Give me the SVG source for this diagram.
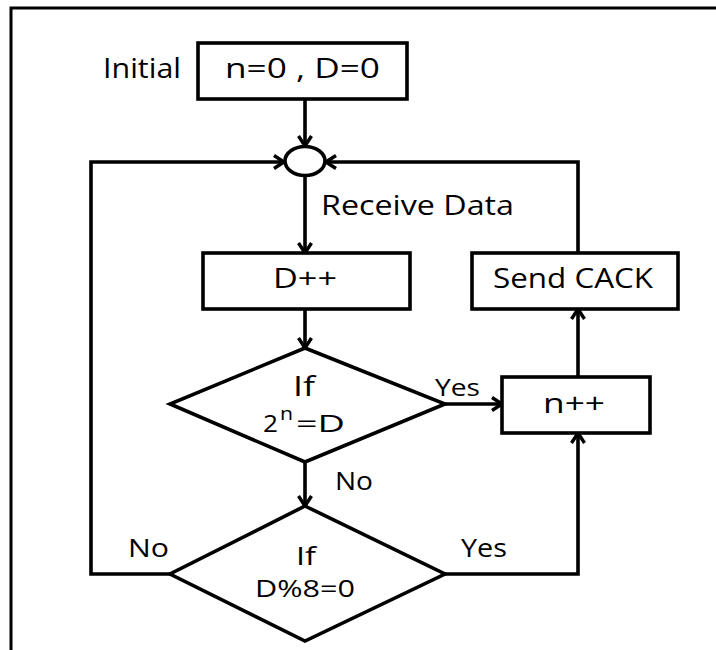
<svg xmlns="http://www.w3.org/2000/svg" width="716" height="650" viewBox="0 0 716 650">
  <style>
    .shape { fill: #ffffff; stroke: #000000; stroke-width: 3.6; stroke-linejoin: miter; }
    .wire { fill: none; stroke: #000000; stroke-width: 3.6; }
    .lbl { font-family: "Open Sans", "Noto Sans", "Liberation Sans", sans-serif; fill: #000000; }
    .big { font-size: 27px; }
    .mid { font-size: 25px; }
    .small { font-size: 23px; }
  </style>
  <defs>
    <marker id="arrow" viewBox="0 0 13 16" refX="11.5" refY="8" markerWidth="13" markerHeight="16" markerUnits="userSpaceOnUse" orient="auto">
      <path d="M1.5,1.5 L11.5,8 L1.5,14.5" fill="none" stroke="#000000" stroke-width="3.4"/>
    </marker>
  </defs>

  <rect width="716" height="650" fill="#ffffff"/>

  <!-- frame: top and left edges -->
  <path d="M11,650 V8 H716" fill="none" stroke="#000000" stroke-width="3"/>

  <g id="connectors">
    <line class="wire" x1="305" y1="99" x2="305" y2="146" marker-end="url(#arrow)"/>
    <path class="wire" d="M170,574 H91 V162 H284" marker-end="url(#arrow)"/>
    <path class="wire" d="M578,253 V162 H326" marker-end="url(#arrow)"/>
    <line class="wire" x1="305" y1="176" x2="305" y2="253" marker-end="url(#arrow)"/>
    <line class="wire" x1="305" y1="309" x2="305" y2="348" marker-end="url(#arrow)"/>
    <line class="wire" x1="445" y1="404" x2="502" y2="404" marker-end="url(#arrow)"/>
    <line class="wire" x1="578" y1="377" x2="578" y2="309" marker-end="url(#arrow)"/>
    <line class="wire" x1="305" y1="462" x2="305" y2="506" marker-end="url(#arrow)"/>
    <path class="wire" d="M445,574 H578 V433" marker-end="url(#arrow)"/>
  </g>

  <g id="init">
    <text class="lbl big" x="103" y="78" textLength="78" lengthAdjust="spacingAndGlyphs">Initial</text>
    <rect class="shape" x="198" y="43" width="209" height="56"/>
    <text class="lbl big" x="225" y="78" textLength="155" lengthAdjust="spacingAndGlyphs">n=0 , D=0</text>
  </g>

  <g id="merge">
    <ellipse class="shape" cx="305" cy="161" rx="20" ry="14.5"/>
  </g>

  <g id="receive-label">
    <text class="lbl big" x="321" y="215" textLength="193" lengthAdjust="spacingAndGlyphs">Receive Data</text>
  </g>

  <g id="inc-d">
    <rect class="shape" x="203" y="253" width="207" height="56"/>
    <text class="lbl big" x="273" y="288" textLength="64" lengthAdjust="spacingAndGlyphs">D++</text>
  </g>

  <g id="send-cack">
    <rect class="shape" x="472" y="253" width="206" height="56"/>
    <text class="lbl big" x="493" y="288" textLength="160" lengthAdjust="spacingAndGlyphs">Send CACK</text>
  </g>

  <g id="check-power">
    <polygon class="shape" points="305,348 445,404 305,462 170,404"/>
    <text class="lbl big" x="293" y="396" textLength="22" lengthAdjust="spacingAndGlyphs">If</text>
    <text class="lbl" font-size="24" x="263" y="432" textLength="15" lengthAdjust="spacingAndGlyphs">2</text>
    <text class="lbl" font-size="18" x="280" y="420" textLength="13" lengthAdjust="spacingAndGlyphs">n</text>
    <text class="lbl" font-size="24" x="296" y="432" textLength="49" lengthAdjust="spacingAndGlyphs">=D</text>
    <text class="lbl small" x="435" y="396" textLength="45" lengthAdjust="spacingAndGlyphs">Yes</text>
    <text class="lbl mid" x="335" y="490" textLength="38" lengthAdjust="spacingAndGlyphs">No</text>
  </g>

  <g id="inc-n">
    <rect class="shape" x="502" y="377" width="148" height="56"/>
    <text class="lbl big" x="543" y="413" textLength="62" lengthAdjust="spacingAndGlyphs">n++</text>
  </g>

  <g id="check-mod">
    <polygon class="shape" points="305,506 445,574 305,641 170,574"/>
    <text class="lbl mid" x="296" y="565" textLength="20" lengthAdjust="spacingAndGlyphs">If</text>
    <text class="lbl small" x="255" y="597" textLength="100" lengthAdjust="spacingAndGlyphs">D%8=0</text>
    <text class="lbl mid" x="128" y="557" textLength="41" lengthAdjust="spacingAndGlyphs">No</text>
    <text class="lbl mid" x="461" y="557" textLength="46" lengthAdjust="spacingAndGlyphs">Yes</text>
  </g>
</svg>
